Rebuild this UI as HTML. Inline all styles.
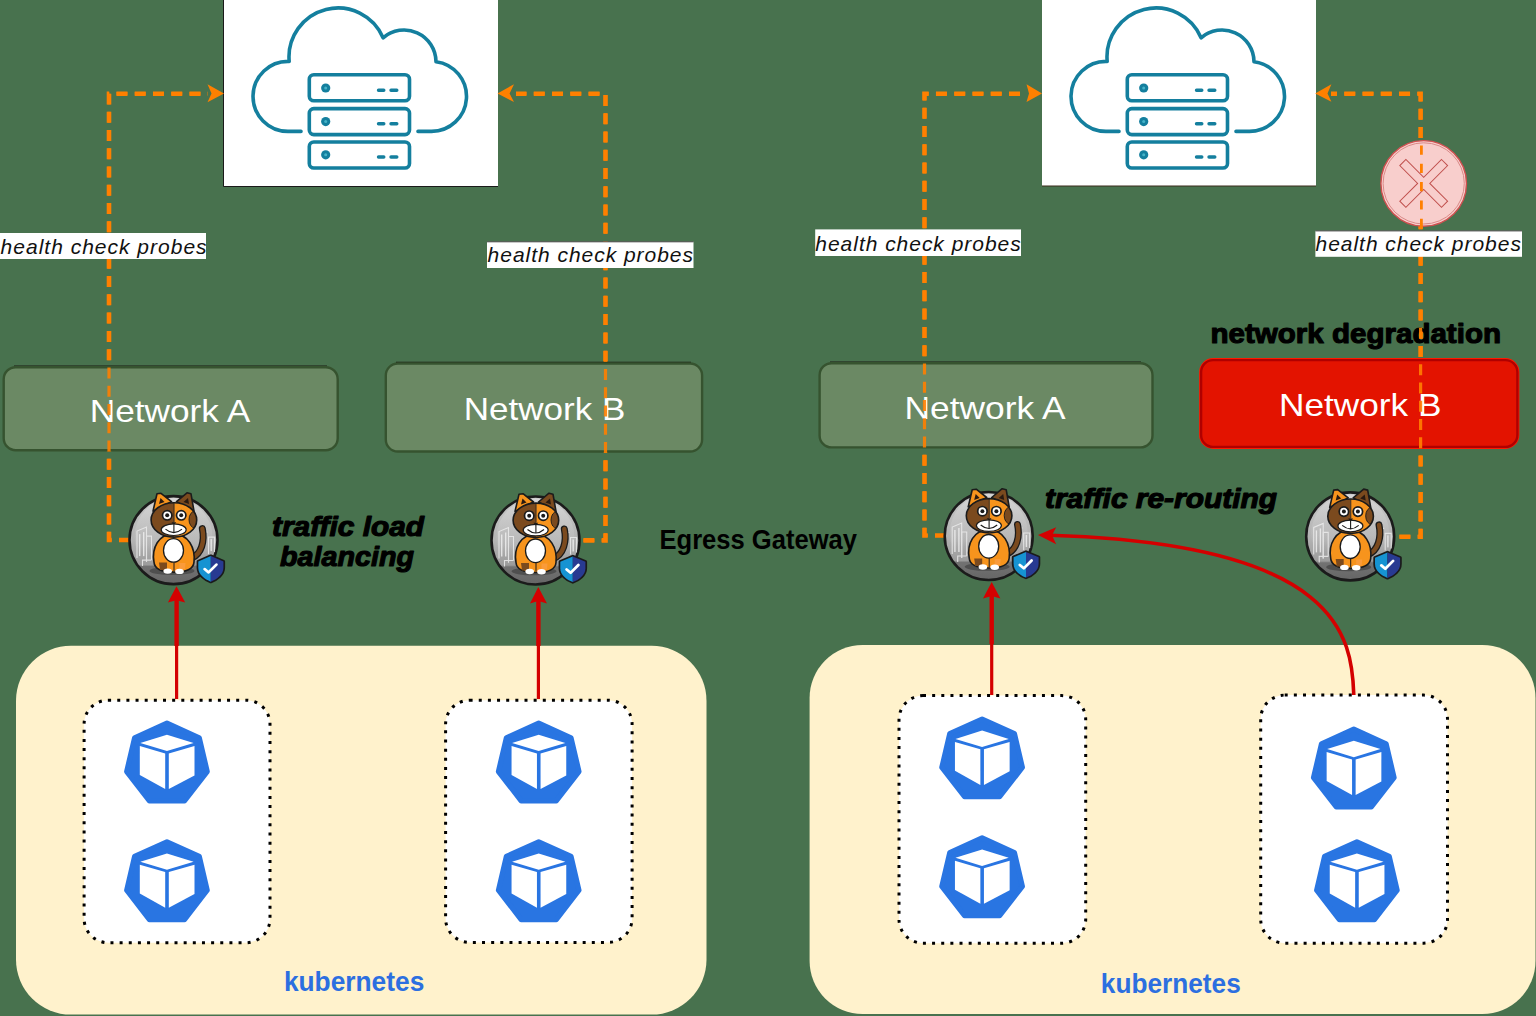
<!DOCTYPE html>
<html>
<head>
<meta charset="utf-8">
<style>
html,body{margin:0;padding:0;width:1536px;height:1016px;overflow:hidden;background:#48724e;}
svg{display:block;}
text{font-family:"Liberation Sans",sans-serif;}
</style>
</head>
<body>
<svg width="1536" height="1016" viewBox="0 0 1536 1016">
<defs>
  <linearGradient id="cg" x1="0" y1="0" x2="0" y2="1">
    <stop offset="0" stop-color="#c8c8c8"/>
    <stop offset="0.5" stop-color="#b4b4b4"/>
    <stop offset="0.78" stop-color="#9c9c9c"/>
    <stop offset="0.8" stop-color="#727272"/>
    <stop offset="1" stop-color="#666"/>
  </linearGradient>
  <!-- cloud with servers, origin = box top-left -->
  <g id="cloud">
    <rect x="0" y="0" width="274" height="186" fill="#fff"/>
    <path d="M77 131.4 L64 131.4 A35 35 0 1 1 65.20 61.42 A49 49 0 0 1 159.08 37.79 A32 32 0 0 1 212.00 61.69 A35 35 0 0 1 207.5 131.4 L194 131.4"
      fill="none" stroke="#147f9e" stroke-width="3.6" stroke-linecap="round" stroke-linejoin="round"/>
    <g fill="none" stroke="#147f9e" stroke-width="3.6">
      <rect x="85.3" y="74.8" width="100.2" height="26" rx="4.5"/>
      <rect x="85.3" y="108.6" width="100.2" height="26" rx="4.5"/>
      <rect x="85.3" y="142" width="100.2" height="26" rx="4.5"/>
    </g>
    <g fill="#147f9e">
      <circle cx="101.7" cy="88" r="4.6"/>
      <circle cx="101.7" cy="121.6" r="4.6"/>
      <circle cx="101.7" cy="154.8" r="4.6"/>
    </g>
    <g fill="#45b3c8">
      <circle cx="101.7" cy="88" r="1.5"/>
      <circle cx="101.7" cy="121.6" r="1.5"/>
      <circle cx="101.7" cy="154.8" r="1.5"/>
    </g>
    <g stroke="#147f9e" stroke-width="3.4" stroke-linecap="round">
      <path d="M154.5 90.3 H159.8 M167 90.3 H172.8"/>
      <path d="M154.5 123.8 H159.8 M167 123.8 H172.8"/>
      <path d="M154.5 157 H159.8 M167 157 H172.8"/>
    </g>
  </g>
  <!-- kubernetes pod icon, origin = bbox top-left (93 x 93) -->
  <g id="pod">
    <path transform="translate(46.75 48.5) scale(0.935 0.933) translate(-46.75 -48.5)" d="M46.75 5.1 L81.3 20.8 L89.8 57 L65.5 88.4 L28 88.4 L3.7 57 L12.2 20.8 Z" fill="#2975e2" stroke="#2975e2" stroke-width="5.6" stroke-linejoin="round"/>
    <g fill="#fff">
      <path d="M46.75 19.6 L73.4 27.9 L46.75 36 L20.1 27.9 Z"/>
      <path d="M19.6 30.9 L45 38.3 L45 73.9 L19.6 59.8 Z"/>
      <path d="M48.6 38.3 L74.3 30.9 L74.3 60.3 L48.6 73.9 Z"/>
    </g>
  </g>

  <linearGradient id="cg2" x1="0" y1="0" x2="0" y2="1">
    <stop offset="0" stop-color="#e4e4e4"/>
    <stop offset="0.6" stop-color="#c0c0c0" stop-opacity="0.6"/>
    <stop offset="0.8" stop-color="#999" stop-opacity="0"/>
  </linearGradient>
  <clipPath id="headclip"><ellipse cx="0.4" cy="-20.2" rx="22.8" ry="17.2"/></clipPath>
  <clipPath id="shieldclip"><path d="M24.3 20.3 L36.8 14.8 L49.4 20.3 L49.4 27 C49.4 34 43 39 36.8 41.4 C30.6 39 24.3 34 24.3 27 Z"/></clipPath>
  <g id="cat">
    <circle r="44" fill="url(#cg)" stroke="#1b1b1b" stroke-width="2.6"/>
    <circle r="39" cy="-3" fill="url(#cg2)" opacity="0.55"/>
    <g fill="none" stroke="#ececec" stroke-width="1.1" opacity="0.85">
      <path d="M-36.5 18 V-9 L-27 -13 V22"/>
      <path d="M-27 22 V-4 H-22 V20"/>
      <path d="M-31 26 V20 H-22"/>
      <path d="M35 14 V-3 H41 V12"/>
      <path d="M29 8 V-8 H34"/>
    </g>
    <g fill="#f2f2f2" opacity="0.8">
      <rect x="-34.5" y="-6" width="1.4" height="22"/>
      <rect x="-30.5" y="-8" width="1.4" height="24"/>
      <rect x="37" y="-1" width="1.4" height="12"/>
    </g>
    <ellipse cx="-1.5" cy="30.8" rx="22.5" ry="4" fill="#4f4f4f"/>
    <path d="M18 18 C28 14 31.5 1 28.8 -11.5" stroke="#1b1b1b" stroke-width="7" fill="none" stroke-linecap="round"/>
    <path d="M18 18 C28 14 31.5 1 28.8 -11.5" stroke="#7b4a1e" stroke-width="4.4" fill="none" stroke-linecap="round"/>
    <path d="M-19.5 22 C-22 8 -15 -6 0 -6.5 C15 -6 22 8 20.5 22 C20 29 13 32 0.5 32 C-12 32 -19 29 -19.5 22 Z" fill="#f7941d" stroke="#1b1b1b" stroke-width="1.6"/>
    <path d="M-14.5 22.5 L-6.5 22.5 L-6.5 30 L-13.5 30 Z" fill="#7b4a1e"/>
    <path d="M6 23 L12 23 L11.5 29 L6 29 Z" fill="#fa9b3a"/>
    <path d="M0.5 22 V31" stroke="#1b1b1b" stroke-width="1"/>
    <ellipse cx="0" cy="10.3" rx="10" ry="11.8" fill="#fff" stroke="#1b1b1b" stroke-width="1.3"/>
    <ellipse cx="-5.8" cy="31" rx="4.3" ry="2.7" fill="#fff"/>
    <ellipse cx="6" cy="31.3" rx="4.3" ry="2.7" fill="#fff"/>
    <path d="M-20.5 -29 L-16.5 -46.3 L-12.5 -46.8 L-2 -38.5 Z" fill="#f7941d" stroke="#1b1b1b" stroke-width="1.6" stroke-linejoin="round"/>
    <path d="M-14.5 -36 L-13 -42 L-9 -38 Z" fill="#2a1a10"/>
    <path d="M3 -38.5 L13.5 -47.3 L17.5 -46.3 L20.5 -29 Z" fill="#7b4a1e" stroke="#1b1b1b" stroke-width="1.6" stroke-linejoin="round"/>
    <path d="M10 -38 L14.5 -42 L15.5 -36 Z" fill="#2a1a10"/>
    <g clip-path="url(#headclip)">
      <rect x="-24" y="-40" width="24.6" height="38" fill="#7b4a1e"/>
      <rect x="0.6" y="-40" width="24" height="38" fill="#f7941d"/>
      <ellipse cx="21.5" cy="-20.5" rx="6" ry="8.5" fill="#7b4a1e" stroke="#1b1b1b" stroke-width="0.9"/>
    </g>
    <ellipse cx="0.4" cy="-20.2" rx="22.8" ry="17.2" fill="none" stroke="#1b1b1b" stroke-width="1.6"/>
    <path d="M0.6 -37 V-18" stroke="#1b1b1b" stroke-width="0.8"/>
    <circle cx="-6.3" cy="-24.8" r="4.7" fill="#fff" stroke="#1b1b1b" stroke-width="1.7"/>
    <circle cx="7.7" cy="-24.8" r="4.7" fill="#fff" stroke="#1b1b1b" stroke-width="1.7"/>
    <circle cx="-6.3" cy="-24.8" r="2" fill="#1b1b1b"/>
    <circle cx="7.7" cy="-24.8" r="2" fill="#1b1b1b"/>
    <ellipse cx="0.2" cy="-10.4" rx="12.5" ry="5.8" fill="#fff" stroke="#1b1b1b" stroke-width="1.2"/>
    <path d="M-8 -11 Q0.3 -4 8.5 -11" fill="none" stroke="#1b1b1b" stroke-width="1.1"/>
    <path d="M0.4 -15.5 V-7.5" stroke="#1b1b1b" stroke-width="1.1"/>
    <path d="M-2 -17.8 H2.8 L0.4 -15 Z" fill="#1b1b1b"/>
    <g transform="translate(0.5 1.8) scale(1 0.96)"><path d="M24.3 20.3 L36.8 14.8 L49.4 20.3 L49.4 27 C49.4 34 43 39 36.8 41.4 C30.6 39 24.3 34 24.3 27 Z" fill="#1b1b1b" stroke="#1b1b1b" stroke-width="3.4" stroke-linejoin="round"/>
    <g clip-path="url(#shieldclip)">
      <rect x="23" y="13" width="13.8" height="30" fill="#1693d2"/>
      <rect x="36.8" y="13" width="14" height="30" fill="#283a92"/>
    </g>
    <path d="M30.6 28.3 L34.6 31.8 L42.4 23.6" fill="none" stroke="#fff" stroke-width="2.8" stroke-linecap="round" stroke-linejoin="round"/></g>
  </g>
</defs>

<!-- cloud boxes -->
<use href="#cloud" x="224" y="0"/>
<use href="#cloud" x="1042" y="0"/>

<!-- kubernetes clusters -->
<rect x="16" y="645.8" width="690.5" height="368.8" rx="55" fill="#fff2cc"/>
<rect x="809.6" y="645" width="725.9" height="369" rx="53" fill="#fff2cc"/>

<!-- box borders -->
<path d="M223.5 0 V186.5 H498" fill="none" stroke="#1a1a1a" stroke-width="1"/>
<path d="M1042 186 H1316" fill="none" stroke="#3a2a1a" stroke-width="1"/>

<!-- dotted pod groups -->
<g fill="#fff" stroke="#000" stroke-width="3" stroke-dasharray="3 6.15">
  <rect x="84.1" y="700.2" width="185.9" height="242.5" rx="24"/>
  <rect x="445.6" y="700.2" width="186.5" height="242.2" rx="24"/>
  <rect x="899" y="695.6" width="186.7" height="247.6" rx="24"/>
  <rect x="1260.7" y="695.1" width="186.8" height="248.1" rx="24"/>
</g>

<!-- pods -->
<use href="#pod" x="120.2" y="715.1"/>
<use href="#pod" x="120.2" y="833.8"/>
<use href="#pod" x="491.95" y="715.1"/>
<use href="#pod" x="491.95" y="833.8"/>
<use href="#pod" x="935.35" y="711"/>
<use href="#pod" x="935.35" y="829.9"/>
<use href="#pod" x="1307.05" y="721.2"/>
<use href="#pod" x="1310.15" y="833.8"/>

<!-- network boxes -->

<!-- orange dashed probes -->
<g id="probes" fill="none" stroke="#ff8000" stroke-width="4.6" stroke-dasharray="11 7.26">
  <path d="M208 93.7 H109 V540 H129" stroke-dashoffset="10.76"/>
  <path d="M516 93.7 H605.5 V540.4 H580" stroke-dashoffset="0.5"/>
  <path d="M1026.7 93.7 H924.5 V535.5 H944" stroke-dashoffset="11.56"/>
  <path d="M1331 93.7 H1420.6 V536.7 H1395" stroke-dashoffset="5"/>
</g>
<g stroke="#1a1a12" stroke-width="1.2" fill="none">
  <path d="M14 366 H327"/>
  <path d="M396 362.3 H691"/>
  <path d="M830 362 H1141"/>
</g>
<g stroke-width="2.4">
  <rect x="3.7" y="367.2" width="334" height="83" rx="12" fill="#6b8964" stroke="#36532f"/>
  <rect x="385.8" y="363.5" width="316.3" height="88" rx="12" fill="#6b8964" stroke="#36532f"/>
  <rect x="819.6" y="363.2" width="332.9" height="84.2" rx="12" fill="#6b8964" stroke="#36532f"/>
  <rect x="1201.1" y="360.1" width="316.3" height="86.8" rx="12" fill="none" stroke="#ff1a00" stroke-width="4"/>
  <rect x="1201.1" y="360.1" width="316.3" height="86.8" rx="12" fill="#e31300" stroke="#b00000"/>
</g>
<g fill="#ff8000">
  <path d="M224 93.5 L207.5 84.2 L211.5 93.5 L207.5 102.2 Z"/>
  <path d="M497.5 93.5 L514 84.2 L509.6 93.5 L514 102 Z"/>
  <path d="M1042 93.5 L1026.5 84.2 L1029 93.5 L1026.5 102 Z"/>
  <path d="M1315.2 93.5 L1331.4 84.2 L1327.5 93.5 L1331.4 101.8 Z"/>
</g>

<!-- network labels -->
<g fill="#fff" font-size="30.5">
  <text x="89.7" y="422.4" textLength="160.6" lengthAdjust="spacingAndGlyphs">Network A</text>
  <text x="463.8" y="420.2" textLength="161.6" lengthAdjust="spacingAndGlyphs">Network B</text>
  <text x="904.6" y="418.7" textLength="161" lengthAdjust="spacingAndGlyphs">Network A</text>
  <text x="1279" y="415.9" textLength="162.5" lengthAdjust="spacingAndGlyphs">Network B</text>
</g>
<g font-weight="bold" fill="#000" stroke="#000" stroke-width="1.15" stroke-linejoin="round">
  <text x="1210.5" y="342.7" font-size="28" textLength="290.5" lengthAdjust="spacingAndGlyphs">network degradation</text>
</g>
<g fill="none" stroke="#ff8000" stroke-width="3.2" stroke-dasharray="11 7.26" opacity="0.9">
  <path d="M208 93.7 H109 V540 H129" stroke-dashoffset="10.76"/>
  <path d="M516 93.7 H605.5 V540.4 H580" stroke-dashoffset="0.5"/>
  <path d="M1026.7 93.7 H924.5 V535.5 H944" stroke-dashoffset="11.56"/>
  <path d="M1331 93.7 H1420.6 V536.7 H1395" stroke-dashoffset="5"/>
</g>

<!-- health check labels -->
<g fill="#fff">
  <rect x="0" y="233" width="206" height="26"/>
  <rect x="487" y="241.5" width="206.5" height="26.5"/>
  <rect x="815.2" y="229.4" width="205.8" height="26.6"/>
  <rect x="1315.4" y="230.6" width="206.6" height="26.2"/>
</g>
<path d="M487 241.8 H693.5 M1315.4 230.9 H1522" stroke="#1a1a1a" stroke-width="0.8"/>
<g font-style="italic" font-size="21" fill="#111">
  <text x="0.6" y="253.7" textLength="206" lengthAdjust="spacing">health check probes</text>
  <text x="487.6" y="262.2" textLength="205.4" lengthAdjust="spacing">health check probes</text>
  <text x="815.3" y="250.5" textLength="205.4" lengthAdjust="spacing">health check probes</text>
  <text x="1315.5" y="251.4" textLength="205.4" lengthAdjust="spacing">health check probes</text>
</g>

<!-- failure X -->
<circle cx="1423.7" cy="183.4" r="42.8" fill="#f8cecc" stroke="#d05050" stroke-width="1.4"/>
<circle cx="1423.7" cy="183.4" r="40.6" fill="none" stroke="#d98a88" stroke-width="1"/>
<path transform="translate(1423.7 183.4) rotate(45)" d="M-4.3 -29.5 H4.3 V-4.3 H29.5 V4.3 H4.3 V29.5 H-4.3 V4.3 H-29.5 V-4.3 H-4.3 Z" fill="none" stroke="#c0504d" stroke-width="1"/>
<path d="M1421.4 145.5 V228.5" fill="none" stroke="#ff8000" stroke-width="2.8" stroke-dasharray="9.2 9.1"/>


<!-- cats -->
<use href="#cat" x="173.5" y="540.1"/>
<use href="#cat" x="535.5" y="540.5"/>
<use href="#cat" x="988.7" y="536"/>
<use href="#cat" x="1350.2" y="536.4"/>

<!-- red arrows -->
<g fill="none" stroke="#d40000" stroke-linecap="butt">
  <path d="M176.6 598 V646" stroke-width="4.4"/>
  <path d="M176.6 646 V699" stroke-width="3.2"/>
  <path d="M538.4 598 V646" stroke-width="4.4"/>
  <path d="M538.4 646 V699" stroke-width="3.2"/>
  <path d="M991.7 594 V644" stroke-width="4.4"/>
  <path d="M991.7 644 V695" stroke-width="3.2"/>
  <path d="M1353.8 695 C1352 638 1341 544 1050 535.3" stroke-width="3.6"/>
</g>
<g fill="#d40000">
  <path d="M176.5 586.2 L185.2 602.6 L176.5 600.2 L167.9 602.4 Z"/>
  <path d="M538.3 587 L547 603.6 L538.3 601 L530 603.6 Z"/>
  <path d="M991.7 582 L1000.4 598.4 L991.7 596 L983 598.4 Z"/>
  <path d="M1038 535 L1056.2 527.3 L1052 535.2 L1056.2 544.3 Z"/>
</g>

<!-- bold captions -->
<g font-weight="bold" fill="#000" stroke="#000" stroke-width="1.15" stroke-linejoin="round">
  <g font-style="italic" font-size="28">
    <text x="272" y="535.7" textLength="152" lengthAdjust="spacingAndGlyphs">traffic load</text>
    <text x="280" y="565.6" textLength="134" lengthAdjust="spacingAndGlyphs">balancing</text>
    <text x="1045" y="508" font-size="27" textLength="232" lengthAdjust="spacingAndGlyphs">traffic re-routing</text>
  </g>
</g>
<text x="659.5" y="549.4" font-size="27.5" font-weight="bold" fill="#000" textLength="197.5" lengthAdjust="spacingAndGlyphs">Egress Gateway</text>
<g font-weight="bold" fill="#2c6fe0" font-size="27">
  <text x="283.9" y="991" textLength="140.4" lengthAdjust="spacingAndGlyphs">kubernetes</text>
  <text x="1100.8" y="992.8" textLength="140" lengthAdjust="spacingAndGlyphs">kubernetes</text>
</g>

</svg>
</body>
</html>
